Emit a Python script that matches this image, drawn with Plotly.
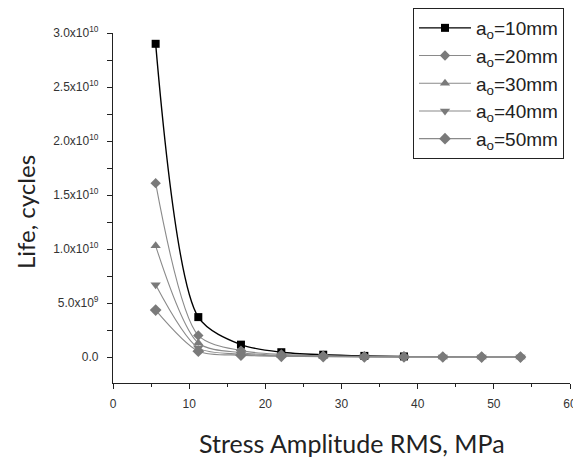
import plotly.graph_objects as go

stress_10 = [5.6, 11.2, 16.8, 22.1, 27.6, 33.0, 38.2]
life_10 = [2.90e10, 3.70e9, 1.15e9, 4.5e8, 2.2e8, 1.1e8, 6e7]

stress = [5.6, 11.2, 16.8, 22.1, 27.6, 33.0, 38.2, 43.3, 48.4, 53.5]
life_20 = [1.61e10, 2.0e9, 6.0e8, 2.5e8, 1.2e8, 6e7, 3.5e7, 2e7, 1.3e7, 9e6]
life_30 = [1.03e10, 1.3e9, 4.0e8, 1.6e8, 8e7, 4e7, 2.3e7, 1.4e7, 9e6, 6e6]
life_40 = [6.7e9, 8.5e8, 2.7e8, 1.1e8, 5.5e7, 2.8e7, 1.6e7, 1e7, 6e6, 4e6]
life_50 = [4.35e9, 5.5e8, 1.8e8, 7e7, 3.5e7, 1.8e7, 1e7, 6e6, 4e6, 3e6]

labels = ["a<sub>o</sub>=10mm", "a<sub>o</sub>=20mm", "a<sub>o</sub>=30mm",
          "a<sub>o</sub>=40mm", "a<sub>o</sub>=50mm"]

y_tickvals = [0, 5e9, 1e10, 1.5e10, 2e10, 2.5e10, 3e10]
y_ticktext = ["0.0", "5.0x10<sup>9</sup>", "1.0x10<sup>10</sup>", "1.5x10<sup>10</sup>",
              "2.0x10<sup>10</sup>", "2.5x10<sup>10</sup>", "3.0x10<sup>10</sup>"]
x_tickvals = [0, 10, 20, 30, 40, 50, 60]

series = [
    (stress_10, life_10, labels[0], "#000000", "#000000", "square", 8, 1.4),
    (stress, life_20, labels[1], "#8a8a8a", "#7a7a7a", "diamond", 8, 1.1),
    (stress, life_30, labels[2], "#8a8a8a", "#7a7a7a", "triangle-up", 9, 1.1),
    (stress, life_40, labels[3], "#8a8a8a", "#7a7a7a", "triangle-down", 9, 1.1),
    (stress, life_50, labels[4], "#8a8a8a", "#7a7a7a", "diamond", 9, 1.1),
]

fig = go.Figure()
for xs, ys, name, lc, mc, sym, sz, lw in series:
    fig.add_trace(go.Scatter(
        x=xs, y=ys, name=name, mode="lines+markers",
        line=dict(color=lc, width=lw, shape="spline", smoothing=0.8),
        marker=dict(symbol=sym, size=sz, color=mc, line=dict(width=0)),
    ))

# page body has an 8px default margin; figure is sized/placed to compensate
fig.update_layout(
    width=573, height=450,
    margin=dict(l=105, r=11, t=25, b=75, autoexpand=False),
    paper_bgcolor="white", plot_bgcolor="white",
    font=dict(family="Liberation Sans, Arial", size=12, color="#333"),
    showlegend=True,
    legend=dict(
        xref="container", yref="container",
        x=405 / 573, y=1.0, xanchor="left", yanchor="top",
        bordercolor="#222", borderwidth=1, bgcolor="white",
        font=dict(family="Liberation Sans, Arial", size=19, color="#222"),
        itemwidth=52, tracegroupgap=0,
    ),
    xaxis=dict(
        range=[0, 60], tickvals=x_tickvals, ticks="outside", ticklen=5,
        showline=True, linecolor="#222", linewidth=1.2, showgrid=False, zeroline=False,
        minor=dict(dtick=5, ticks="outside", ticklen=3, tickcolor="#222"),
        tickcolor="#222", automargin=False, ticklabelstandoff=4,
    ),
    yaxis=dict(
        range=[-2.4e9, 3.0e10], tickvals=y_tickvals, ticktext=y_ticktext,
        ticks="outside", ticklen=5, tickcolor="#222",
        showline=True, linecolor="#222", linewidth=1.2, showgrid=False, zeroline=False,
        minor=dict(tickvals=[2.5e9, 7.5e9, 1.25e10, 1.75e10, 2.25e10, 2.75e10],
                   ticks="outside", ticklen=5, tickcolor="#222"),
        automargin=False, ticklabelstandoff=6,
    ),
    annotations=[
        dict(text="Stress Amplitude RMS, MPa", xref="paper", yref="paper",
             x=(352 - 113) / 457, y=(383 - 443) / 350, showarrow=False,
             xanchor="center", yanchor="middle",
             font=dict(family="Lato", size=25, color="#222")),
        dict(text="Life, cycles", xref="paper", yref="paper",
             x=(25 - 113) / 457, y=(383 - 212) / 350, showarrow=False, textangle=-90,
             xanchor="center", yanchor="middle",
             font=dict(family="Lato", size=24, color="#222")),
    ],
)

fig.write_html("out.html")
